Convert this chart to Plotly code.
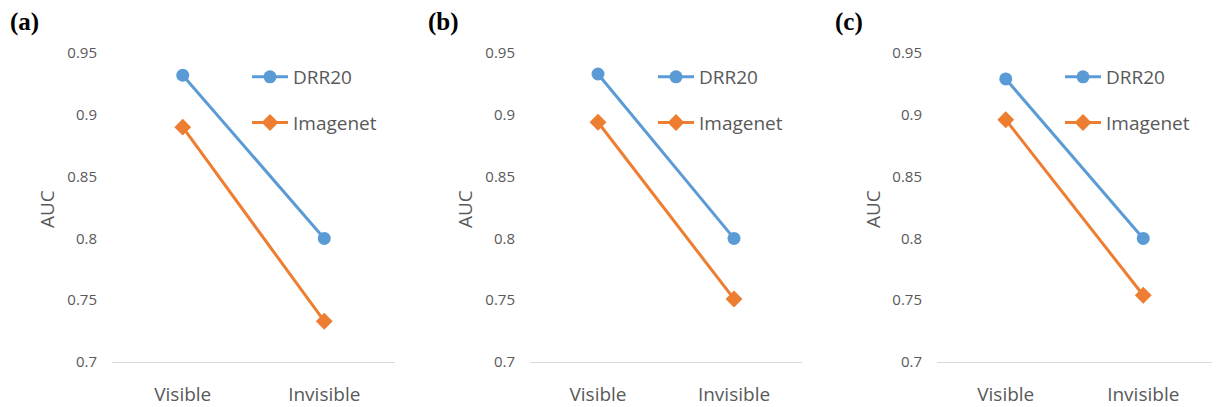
import plotly.graph_objects as go

categories = ["Visible", "Invisible"]
panel_labels = ["(a)", "(b)", "(c)"]
drr20_a = [0.932, 0.800]
imagenet_a = [0.890, 0.733]
drr20_b = [0.933, 0.800]
imagenet_b = [0.894, 0.751]
drr20_c = [0.929, 0.800]
imagenet_c = [0.896, 0.754]
y_tickvals = [0.7, 0.75, 0.8, 0.85, 0.9, 0.95]
y_ticktext = ["0.7", "0.75", "0.8", "0.85", "0.9", "0.95"]

W, H = 1216, 407
BLUE = "#5B9BD5"
ORANGE = "#ED7D31"
GRAY = "#595959"
FONT = "Open Sans"

panels = [
    dict(drr=drr20_a, img=imagenet_a, x0=112, x1=395, leg_x=247, lab_x=8, auc_x=47),
    dict(drr=drr20_b, img=imagenet_b, x0=530, x1=802, leg_x=653, lab_x=426, auc_x=465),
    dict(drr=drr20_c, img=imagenet_c, x0=937, x1=1212, leg_x=1060, lab_x=833, auc_x=873),
]

y_bottom_px, y_top_px = 362, 53
ydom = [(H - y_bottom_px) / H, (H - y_top_px) / H]

fig = go.Figure()
layout = dict(
    width=W, height=H,
    margin=dict(l=0, r=0, t=0, b=0, pad=0, autoexpand=False),
    paper_bgcolor="white", plot_bgcolor="white",
    font=dict(family=FONT, color=GRAY),
    annotations=[],
)

for i, p in enumerate(panels):
    n = "" if i == 0 else str(i + 1)
    xa, ya = "x" + n, "y" + n
    leg = "legend" + n
    fig.add_trace(go.Scatter(
        x=categories, y=p["drr"], name="DRR20", mode="lines+markers",
        line=dict(color=BLUE, width=3), marker=dict(symbol="circle", size=13, color=BLUE),
        xaxis=xa, yaxis=ya, legend=leg, legendgroup="d" + n, cliponaxis=False,
    ))
    fig.add_trace(go.Scatter(
        x=categories, y=p["img"], name="Imagenet", mode="lines+markers",
        line=dict(color=ORANGE, width=3), marker=dict(symbol="diamond", size=13, color=ORANGE),
        xaxis=xa, yaxis=ya, legend=leg, legendgroup="i" + n, cliponaxis=False,
    ))
    layout["xaxis" + n] = dict(
        domain=[p["x0"] / W, p["x1"] / W], anchor=ya,
        type="category", range=[-0.5, 1.5], automargin=False,
        showgrid=False, zeroline=False, showline=True, linecolor="#D9D9D9", linewidth=1,
        ticks="", tickfont=dict(size=19, color=GRAY, family=FONT), ticklabelstandoff=15,
    )
    layout["yaxis" + n] = dict(
        domain=ydom, anchor=xa, range=[0.7, 0.95], automargin=False,
        tickvals=y_tickvals, ticktext=y_ticktext,
        showgrid=False, zeroline=False, showline=False, ticks="",
        tickfont=dict(size=15, color=GRAY, family=FONT), ticklabelstandoff=14,
    )
    layout[leg] = dict(
        x=p["leg_x"] / W, y=(H - 58) / H, xanchor="left", yanchor="top",
        bgcolor="rgba(0,0,0,0)", font=dict(size=19, color=GRAY, family=FONT),
        itemwidth=36, tracegroupgap=18,
    )
    layout["annotations"].append(dict(
        text="<b>" + panel_labels[i] + "</b>", xref="paper", yref="paper",
        x=p["lab_x"] / W, y=(H - 22) / H, xanchor="left", yanchor="middle",
        showarrow=False, font=dict(family="Liberation Serif", size=25, color="black"),
    ))
    layout["annotations"].append(dict(
        text="AUC", xref="paper", yref="paper", textangle=-90,
        x=p["auc_x"] / W, y=(H - 209) / H, xanchor="center", yanchor="middle",
        showarrow=False, font=dict(family=FONT, size=19, color=GRAY),
    ))

fig.update_layout(**layout)
fig.write_html("out.html", config={"displayModeBar": False})

with open("out.html", encoding="utf-8") as f:
    html = f.read()
html = html.replace("<head>", "<head><style>html,body{margin:0;padding:0;overflow:hidden;}</style>", 1)
with open("out.html", "w", encoding="utf-8") as f:
    f.write(html)
